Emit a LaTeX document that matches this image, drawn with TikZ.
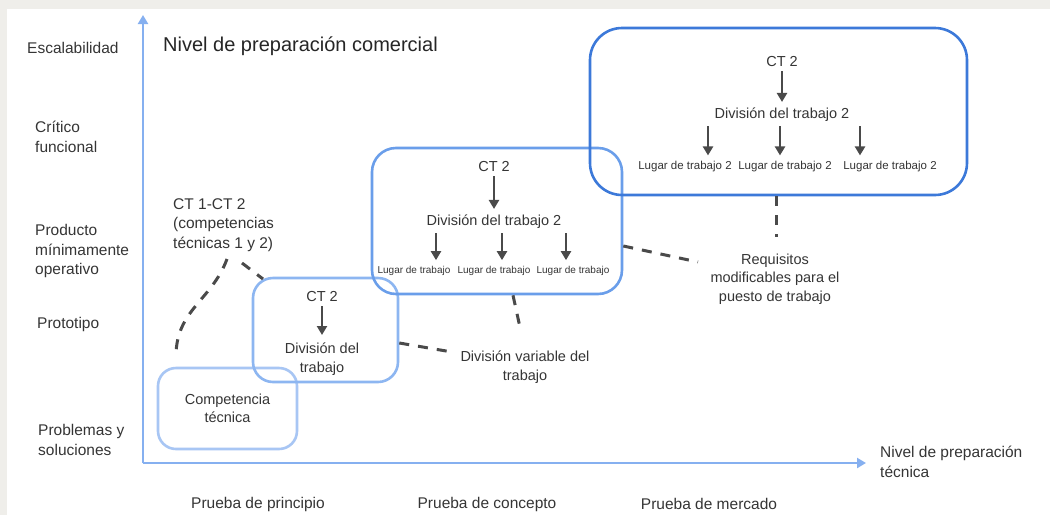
\documentclass[tikz,border=0pt]{standalone}
\usepackage{fontspec}
\setmainfont{Liberation Sans}
\usepackage{tikz}
\usetikzlibrary{positioning,arrows.meta,calc}
\definecolor{pageGray}{HTML}{EFEEEA}
\definecolor{axisBlue}{HTML}{86B0F0}
\definecolor{lvlOne}{HTML}{A8C6F4}
\definecolor{lvlTwo}{HTML}{8DB6F1}
\definecolor{lvlThree}{HTML}{6A9EEA}
\definecolor{lvlFour}{HTML}{3C79D9}
\definecolor{inkDark}{HTML}{353535}
\definecolor{inkMid}{HTML}{4A4A4A}
\tikzset{
    trlBoxBase/.style={
        rectangle,
        draw,
        line width=2.6pt,
        inner sep=0pt,
        align=center,
        font=\fontsize{14.5}{18.5}\selectfont,
        text=inkDark
    },
    % one style per readiness level
    lvlA/.style={trlBoxBase, draw=lvlOne, rounded corners=18pt},
    lvlB/.style={trlBoxBase, draw=lvlTwo, rounded corners=20pt},
    lvlC/.style={trlBoxBase, draw=lvlThree, rounded corners=24pt},
    lvlD/.style={trlBoxBase, draw=lvlFour, rounded corners=32pt},
    % texts
    axisText/.style={font=\fontsize{15.5}{19.5}\selectfont, text=inkDark, align=left, inner sep=0pt},
    boxText/.style={font=\fontsize{14.5}{18.5}\selectfont, text=inkDark, align=center, inner sep=0pt},
    placeSmall/.style={font=\fontsize{10}{12}\selectfont, text=inkDark, inner sep=0pt},
    placeLarge/.style={font=\fontsize{11.5}{14}\selectfont, text=inkDark, inner sep=0pt},
    % lines
    axisArrow/.style={-{Triangle[width=10pt,length=9pt]}, line width=2.4pt, draw=axisBlue},
    dashLink/.style={line width=3pt, draw=inkMid, dash pattern=on 10pt off 9pt}
}

\begin{document}
\begin{tikzpicture}[
    x=1pt, y=-1pt,
    arr/.style={-{Triangle[width=10pt,length=9pt]}, line width=2.6pt, draw=inkMid}
]
\useasboundingbox (0,0) rectangle (1050,515);
\fill[pageGray] (0,0) rectangle (1050,515);
\fill[white] (7,9) rectangle (1050,515);

% Axes
\coordinate (origin) at (143,463);
\coordinate (yTip) at (143,15);
\coordinate (xTip) at (866,463);
\draw[axisArrow] (origin) -- (yTip);
\draw[axisArrow] (origin) -- (xTip);

% Commercial readiness levels
\node[axisText, anchor=west] (escala) at (27,48) {Escalabilidad};
\node[axisText, anchor=west] (critico) at (35,137) {Crítico\\funcional};
\node[axisText, anchor=west] (producto) at (35,251) {Producto\\mínimamente\\operativo};
\node[axisText, anchor=west] (prototipo) at (37,324) {Prototipo};
\node[axisText, anchor=west] (problemas) at (38,440) {Problemas y\\soluciones};
\node[font=\fontsize{20}{24}\selectfont, text=black!85, anchor=west, inner sep=0pt] (crlTitle) at (163,46) {Nivel de preparación comercial};

% Technical readiness
\node[axisText, anchor=west] (trlTitle) at (880,462) {Nivel de preparación\\técnica};
\node[axisText] (principio) at (258,504) {Prueba de principio};
\node[axisText] (concepto) at (487,504) {Prueba de concepto};
\node[axisText] (mercado) at (709,504) {Prueba de mercado};

% Level 1
\node[lvlA, minimum width=139pt, minimum height=81pt] (boxOne) at (227.5,408.5) {Competencia\\técnica};

% Level 2
\node[lvlB, minimum width=145pt, minimum height=104pt] (boxTwo) at (325.5,330) {};
\node[boxText] (ctTwoB) at (322,297) {CT 2};
\node[boxText] (divB) at (322,359) {División del\\trabajo};
\draw[arr] (ctTwoB.south) ++(0,-4pt) -- (322,335);

% Level 3
\node[lvlC, minimum width=250pt, minimum height=146pt] (boxThree) at (497,221) {};
\node[boxText] (ctTwoC) at (494,167) {CT 2};
\node[boxText] (divC) at (494,222) {División del trabajo 2};
\draw[arr] ([yshift=-4pt]ctTwoC.south) -- ([yshift=6pt]divC.north);
\node[placeSmall] (lugarC1) at (414,271) {Lugar de trabajo};
\node[placeSmall] (lugarC2) at (494,271) {Lugar de trabajo};
\node[placeSmall] (lugarC3) at (573,271) {Lugar de trabajo};
\draw[arr] ([xshift=22pt,yshift=-4pt]divC.south -| lugarC1) -- ([xshift=22pt,yshift=6pt]lugarC1.north);
\draw[arr] ([xshift=8pt,yshift=-4pt]divC.south -| lugarC2) -- ([xshift=8pt,yshift=6pt]lugarC2.north);
\draw[arr] ([xshift=-7pt,yshift=-4pt]divC.south -| lugarC3) -- ([xshift=-7pt,yshift=6pt]lugarC3.north);

% Level 4
\node[lvlD, minimum width=377pt, minimum height=167pt] (boxFour) at (778.5,111.5) {};
\node[boxText] (ctTwoD) at (782,62) {CT 2};
\node[boxText] (divD) at (782,115) {División del trabajo 2};
\draw[arr] ([yshift=-4pt]ctTwoD.south) -- ([yshift=6pt]divD.north);
\node[placeLarge] (lugarD1) at (685,167) {Lugar de trabajo 2};
\node[placeLarge] (lugarD2) at (785,167) {Lugar de trabajo 2};
\node[placeLarge] (lugarD3) at (890,167) {Lugar de trabajo 2};
\draw[arr] ([xshift=23pt,yshift=-4pt]divD.south -| lugarD1) -- ([xshift=23pt,yshift=6pt]lugarD1.north);
\draw[arr] ([xshift=-5pt,yshift=-4pt]divD.south -| lugarD2) -- ([xshift=-5pt,yshift=6pt]lugarD2.north);
\draw[arr] ([xshift=-30pt,yshift=-4pt]divD.south -| lugarD3) -- ([xshift=-30pt,yshift=6pt]lugarD3.north);

% Annotations
\node[axisText, anchor=west] (ctRange) at (173,225) {CT 1-CT 2\\(competencias\\técnicas 1 y 2)};
\node[boxText] (divVar) at (525,367) {División variable del\\trabajo};
\node[boxText] (reqMod) at (775,279) {Requisitos\\modificables para el\\puesto de trabajo};
\coordinate (ctCurveTop) at (227,259);
\coordinate (ctCurveEnd) at (176,356);
\coordinate (ctShortTop) at (242,263);
\coordinate (ctShortEnd) at (263,279);
\coordinate (varLeft) at (452,352);
\coordinate (varTop) at (521,332);
\coordinate (reqLeft) at (698,262);
\coordinate (reqTop) at (776,237);

\draw[dashLink] (ctCurveTop) .. controls (212,300) and (176,310) .. (ctCurveEnd);
\draw[dashLink] (ctShortTop) -- (ctShortEnd);
\draw[dashLink] ([yshift=-13pt]boxTwo.east) -- (varLeft);
\draw[dashLink] ([xshift=16pt]boxThree.south) -- (varTop);
\draw[dashLink] ([yshift=-25pt]boxThree.east) -- (reqLeft);
\draw[dashLink] (boxFour.south -| reqTop) -- (reqTop);
\end{tikzpicture}
\end{document}
